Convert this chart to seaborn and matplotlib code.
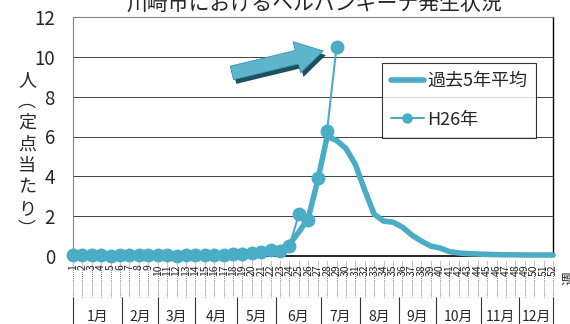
import matplotlib
matplotlib.use("Agg")
import matplotlib.pyplot as plt
import matplotlib.patheffects as pe
import matplotlib.transforms as mtransforms
import seaborn as sns

# weekly cases per sentinel site
weeks = list(range(1, 53))
avg_5yr = [0.05, 0.04, 0.04, 0.03, 0.03, 0.03, 0.04, 0.04, 0.04, 0.04,
           0.04, 0.04, 0.05, 0.05, 0.05, 0.05, 0.06, 0.07, 0.08, 0.1,
           0.2, 0.3, 0.35, 0.6, 1.2, 1.9, 3.8, 6.0, 5.8, 5.4,
           4.6, 3.3, 2.1, 1.75, 1.7, 1.45, 1.05, 0.75, 0.5, 0.4,
           0.22, 0.15, 0.12, 0.1, 0.08, 0.07, 0.06, 0.06, 0.05, 0.05,
           0.05, 0.05]
h26 = [0.03, 0.05, 0.04, 0.03, 0.02, 0.03, 0.05, 0.04, 0.05, 0.03,
       0.04, 0.02, 0.03, 0.05, 0.04, 0.06, 0.05, 0.08, 0.1, 0.15,
       0.2, 0.3, 0.25, 0.5, 2.1, 1.8, 3.9, 6.3, 10.5]
month_labels = ['1月', '2月', '3月', '4月', '5月', '6月',
                '7月', '8月', '9月', '10月', '11月', '12月']
# week positions where the month groups start / end
month_edges = [1, 6.24, 10.0, 14.0, 18.45, 22.55, 27.3, 31.5, 35.6, 39.6, 44.4, 48.4, 52]

title = '川崎市におけるヘルパンギーナ発生状況'
ylabel = '人︵定点当たり︶'
line_color = '#4BACC6'

sns.set_style("white")
plt.rcParams['font.family'] = ['Noto Sans CJK JP', 'DejaVu Sans']

fig = plt.figure(figsize=(5.7, 3.24), dpi=100)
ax = fig.add_axes([73 / 570, 68 / 324, 480 / 570, 239 / 324])

sns.lineplot(x=weeks, y=avg_5yr, ax=ax, color=line_color, lw=4,
             label='過去5年平均', clip_on=False, zorder=3)
sns.lineplot(x=weeks[:len(h26)], y=h26, ax=ax, color=line_color, lw=1.5,
             marker='o', markersize=10, markeredgewidth=0,
             label='H26年', clip_on=False, zorder=4)

ax.set_xlim(1, 52)
ax.set_ylim(0, 12)
ax.set_yticks(range(0, 13, 2))
ax.set_xlabel('')
ax.set_ylabel('')
ax.grid(axis='y', color='#404040', lw=0.7)
ax.grid(axis='x', visible=False)

ax.tick_params(axis='y', length=0, pad=13, labelsize=13.5)

ax.set_xticks(weeks)
ax.set_xticklabels([str(w) for w in weeks], rotation=90, fontsize=7.5,
                   va='top', ha='center')
ax.tick_params(axis='x', length=4, width=0.6, color='black', pad=2)

for side in ['top', 'left']:
    ax.spines[side].set_color('#808080')
    ax.spines[side].set_linestyle((0, (2, 1)))
    ax.spines[side].set_linewidth(0.8)
ax.spines['right'].set_color('black')
ax.spines['right'].set_linewidth(1)
ax.spines['bottom'].set_color('black')
ax.spines['bottom'].set_linewidth(1.2)

# category axis decoration below the plot
trans = mtransforms.blended_transform_factory(ax.transData, ax.transAxes)
ax.vlines(weeks, -0.02, -0.17, transform=trans, colors='#555555', lw=0.6,
          linestyles=(0, (1, 1.5)), clip_on=False, zorder=0)
ax.vlines(month_edges, -0.17, -0.3, transform=trans, colors='#333333', lw=0.8,
          clip_on=False)
for i, lab in enumerate(month_labels):
    mid = (month_edges[i] + month_edges[i + 1]) / 2
    ax.text(mid, -0.255, lab, transform=trans, ha='center', va='center', fontsize=10)

leg = ax.legend(loc='upper left', bbox_to_anchor=(0.644, 0.808), fontsize=13,
                frameon=True, fancybox=False, borderpad=0.5, labelspacing=1.15,
                handlelength=1.8, handletextpad=0.2, borderaxespad=0,
                markerscale=0.75)
leg.get_frame().set_edgecolor('black')
leg.get_frame().set_linewidth(0.8)

# arrow pointing at the peak
ax.annotate('', xy=(0.521, 0.858), xytext=(0.331, 0.766), xycoords='axes fraction',
            arrowprops=dict(arrowstyle='simple,head_length=0.97,head_width=1.15,tail_width=0.5',
                            mutation_scale=20, fc='#5DB6CE', ec='#3A93AB', lw=0.6,
                            shrinkA=0, shrinkB=0,
                            path_effects=[pe.withSimplePatchShadow(offset=(2, -3),
                                                                   shadow_rgbFace='#1D4F5E',
                                                                   alpha=1)]))

fig.text(314 / 570, 1 - 4 / 324, title, ha='center', va='center', fontsize=15)
fig.text(27 / 570, 1 - 155 / 324, '\n'.join(ylabel), ha='center', va='center',
         fontsize=13, linespacing=1.25)
fig.text(562 / 570, 1 - 278 / 324, '週', ha='left', va='center', fontsize=10, rotation=90)

plt.savefig('out.png', dpi=100)
